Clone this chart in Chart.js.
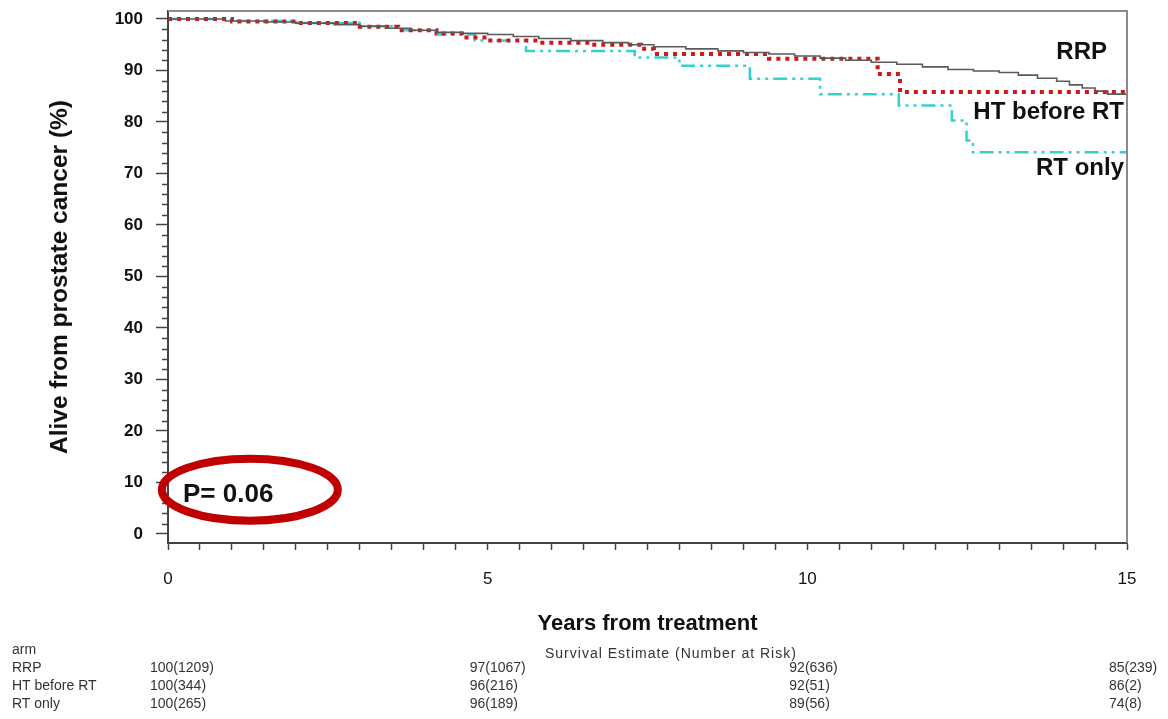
<!DOCTYPE html>
<html>
<head>
<meta charset="utf-8">
<script src="https://cdn.jsdelivr.net/npm/chart.js@4.4.0/dist/chart.umd.min.js"></script>
<style>
  html, body { margin: 0; padding: 0; background: #fff; }
  #wrap { width: 1168px; height: 719px; }
</style>
</head>
<body>
<div id="wrap"><canvas id="grafico" width="1168" height="719"></canvas></div>
<script>
// Kaplan-Meier curves (years, % alive)
const rrpYears = [0, 0.9, 1.5, 2.0, 2.6, 3.0, 3.4, 3.8, 4.2, 4.6, 5.0, 5.4, 5.8, 6.3, 6.8, 7.2, 7.6, 8.1, 8.6, 9.0, 9.4, 9.8, 10.2, 10.6, 11.0, 11.4, 11.8, 12.2, 12.6, 13.0, 13.3, 13.6, 13.9, 14.1, 14.3, 14.5, 14.7, 15];
const rrpSurv  = [100, 99.6, 99.4, 99.2, 98.9, 98.6, 98.2, 97.8, 97.4, 97.2, 97.0, 96.6, 96.2, 95.8, 95.4, 95.0, 94.6, 94.2, 93.8, 93.5, 93.2, 92.8, 92.4, 92.0, 91.6, 91.2, 90.7, 90.2, 89.9, 89.6, 89.1, 88.5, 87.9, 87.2, 86.6, 86.0, 85.4, 85.0];

const htYears = [0, 1.0, 2.0, 3.0, 3.6, 4.2, 4.6, 5.0, 5.8, 6.6, 7.4, 7.6, 9.4, 11.1, 11.45, 15];
const htSurv  = [100, 99.5, 99.2, 98.5, 97.8, 97.2, 96.4, 95.8, 95.4, 95.0, 94.2, 93.2, 92.3, 89.3, 85.8, 85.8];

const rtYears = [0, 1.0, 2.0, 3.0, 3.6, 4.2, 4.8, 5.6, 7.3, 8.0, 9.1, 10.2, 11.43, 12.26, 12.49, 12.59, 15];
const rtSurv  = [100, 99.6, 99.2, 98.6, 97.8, 97.0, 95.8, 93.8, 92.5, 90.9, 88.4, 85.4, 83.2, 80.3, 76.4, 74.1, 74.1];

// Tabla de riesgo
const riskYears = [0, 5, 10, 15];
const riskArms  = ['RRP', 'HT before RT', 'RT only'];
const riskRRP   = ['100(1209)', '97(1067)', '92(636)', '85(239)'];
const riskHT    = ['100(344)', '96(216)', '92(51)', '86(2)'];
const riskRT    = ['100(265)', '96(189)', '89(56)', '74(8)'];

const yTickValues = [];
for (let v = 0; v <= 100; v += 2) yTickValues.push(v);

const toPoints = (xs, ys) => xs.map((x, i) => ({ x: x, y: ys[i] }));

// Marco, marcas menores, etiquetas y tabla
const extrasPlugin = {
    id: 'extras',
    afterDraw(chart) {
        const ctx = chart.ctx;
        const area = chart.chartArea;
        const xs = chart.scales.x;
        const ys = chart.scales.y;
        ctx.save();

        // marco superior y derecho
        ctx.strokeStyle = '#8a8a8a';
        ctx.lineWidth = 2;
        ctx.beginPath();
        ctx.moveTo(area.left, area.top);
        ctx.lineTo(area.right, area.top);
        ctx.lineTo(area.right, area.bottom);
        ctx.stroke();

        // marcas menores del eje y
        ctx.strokeStyle = '#444';
        ctx.lineWidth = 1.5;
        yTickValues.forEach(v => {
            if (v % 10 === 0) return;
            const py = Math.round(ys.getPixelForValue(v)) + 0.5;
            ctx.beginPath();
            ctx.moveTo(area.left - 6, py);
            ctx.lineTo(area.left, py);
            ctx.stroke();
        });

        // nombres de las curvas
        ctx.fillStyle = '#111';
        ctx.font = 'bold 24px "Liberation Sans", Arial, sans-serif';
        ctx.textAlign = 'right';
        ctx.textBaseline = 'middle';
        ctx.fillText('RRP', xs.getPixelForValue(15) - 20, 52);
        ctx.fillText('HT before RT', xs.getPixelForValue(15) - 3, 112);
        ctx.fillText('RT only', xs.getPixelForValue(15) - 3, 168);

        // elipse con el valor p
        const cx = xs.getPixelForValue(1.28);
        const cy = ys.getPixelForValue(8.6);
        ctx.strokeStyle = '#c00000';
        ctx.lineWidth = 8;
        ctx.beginPath();
        ctx.ellipse(cx, cy, 88, 31, 0, 0, Math.PI * 2);
        ctx.stroke();
        ctx.fillStyle = '#111';
        ctx.font = 'bold 26px "Liberation Sans", Arial, sans-serif';
        ctx.textAlign = 'left';
        ctx.fillText('P= 0.06', area.left + 15, cy + 5);

        // tabla de numero en riesgo
        ctx.font = '14px "Liberation Sans", Arial, sans-serif';
        ctx.fillStyle = '#333';
        ctx.textAlign = 'left';
        const rowY = [650, 668, 686, 704];
        ctx.fillText('arm', 12, rowY[0]);
        ctx.letterSpacing = '1px';
        ctx.fillText('Survival Estimate (Number at Risk)', 545, rowY[0] + 4);
        ctx.letterSpacing = '0px';
        const rows = [riskRRP, riskHT, riskRT];
        rows.forEach((row, r) => {
            ctx.fillText(riskArms[r], 12, rowY[r + 1]);
            row.forEach((txt, c) => {
                ctx.fillText(txt, xs.getPixelForValue(riskYears[c]) - 18, rowY[r + 1]);
            });
        });
        ctx.restore();
    }
};

const ctx = document.getElementById('grafico').getContext('2d');
const grafico = new Chart(ctx, {
    type: 'line',
    data: {
        datasets: [
            {
                label: 'RRP',
                data: toPoints(rrpYears, rrpSurv),
                borderColor: '#5a5a5a',
                borderWidth: 1.6,
                stepped: true,
                pointRadius: 0
            },
            {
                label: 'HT before RT',
                data: toPoints(htYears, htSurv),
                borderColor: '#cc1a1a',
                borderWidth: 4,
                borderDash: [4, 5],
                stepped: true,
                pointRadius: 0
            },
            {
                label: 'RT only',
                data: toPoints(rtYears, rtSurv),
                borderColor: '#35d0d0',
                borderWidth: 2.5,
                borderDash: [14, 5, 3, 5, 3, 5],
                stepped: true,
                pointRadius: 0
            }
        ]
    },
    options: {
        responsive: false,
        animation: false,
        layout: { padding: { top: 11, right: 41, bottom: 0, left: 0 } },
        plugins: {
            legend: { display: false },
            tooltip: { enabled: false }
        },
        scales: {
            x: {
                type: 'linear',
                min: 0,
                max: 15,
                afterFit: s => { s.height = 176; },
                ticks: {
                    stepSize: 0.5,
                    autoSkip: false,
                    maxRotation: 0,
                    padding: 19,
                    color: '#111',
                    font: { size: 17, family: '"Liberation Sans", Arial, sans-serif' },
                    callback: v => (v % 5 === 0 ? v : '')
                },
                grid: {
                    drawOnChartArea: false,
                    tickLength: 7,
                    tickWidth: 1.5,
                    tickColor: '#444'
                },
                border: { color: '#444', width: 2 },
                title: {
                    display: true,
                    text: 'Years from treatment',
                    color: '#111',
                    font: { size: 22, weight: 'bold', family: '"Liberation Sans", Arial, sans-serif' },
                    padding: { top: 0, bottom: 82 }
                }
            },
            y: {
                min: -1.75,
                max: 101.55,
                afterFit: s => { s.width = 168; s.paddingTop = 0; s.paddingBottom = 0; },
                afterBuildTicks: s => { s.ticks = yTickValues.map(v => ({ value: v })); },
                ticks: {
                    autoSkip: false,
                    padding: 13,
                    color: '#111',
                    font: { size: 17, weight: 'bold', family: '"Liberation Sans", Arial, sans-serif' },
                    callback: v => (v % 10 === 0 ? v : '')
                },
                grid: {
                    drawOnChartArea: false,
                    tickLength: 12,
                    tickWidth: 1.5,
                    tickColor: c => (c.tick && c.tick.value % 10 === 0 ? '#444' : 'rgba(0,0,0,0)')
                },
                border: { color: '#444', width: 2 },
                title: {
                    display: true,
                    text: 'Alive from prostate cancer (%)',
                    color: '#111',
                    font: { size: 24.5, weight: 'bold', family: '"Liberation Sans", Arial, sans-serif' },
                    padding: { top: 46, bottom: 0 }
                }
            }
        }
    },
    plugins: [extrasPlugin]
});
</script>
</body>
</html>
